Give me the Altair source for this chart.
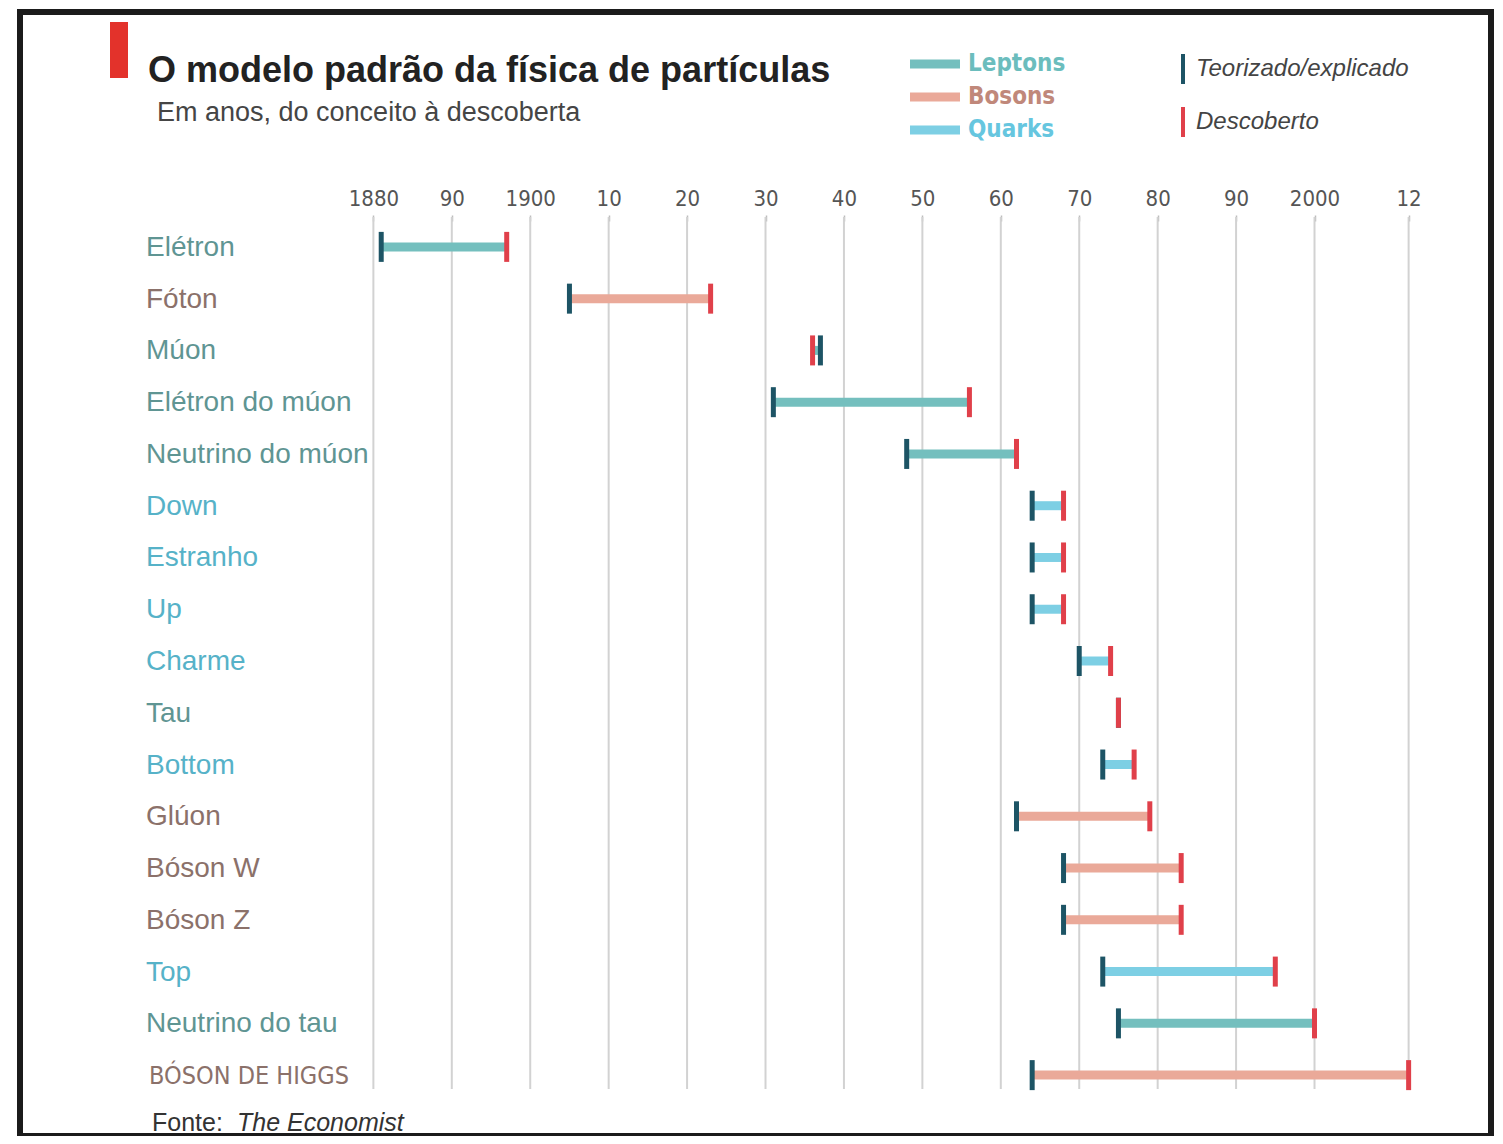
import altair as alt
import pandas as pd

# ---------------- data ----------------
particles = ["Elétron", "Fóton", "Múon", "Elétron do múon", "Neutrino do múon",
             "Down", "Estranho", "Up", "Charme", "Tau", "Bottom", "Glúon",
             "Bóson W", "Bóson Z", "Top", "Neutrino do tau", "BÓSON DE HIGGS"]
groups = ["Leptons", "Bosons", "Leptons", "Leptons", "Leptons",
          "Quarks", "Quarks", "Quarks", "Quarks", "Leptons", "Quarks", "Bosons",
          "Bosons", "Bosons", "Quarks", "Leptons", "Bosons"]
theorized = [1881, 1905, 1937, 1931, 1948, 1964, 1964, 1964, 1970, 1975, 1973,
             1962, 1968, 1968, 1973, 1975, 1964]
discovered = [1897, 1923, 1936, 1956, 1962, 1968, 1968, 1968, 1974, 1975, 1977,
              1979, 1983, 1983, 1995, 2000, 2012]
tick_years = [1880, 1890, 1900, 1910, 1920, 1930, 1940, 1950, 1960, 1970,
              1980, 1990, 2000, 2012]
group_names = ["Leptons", "Bosons", "Quarks"]

# ---------------- styles ----------------
bar_colors = ["#74bfbe", "#eaa999", "#7dcfe4"]
label_colors = ["#5f9593", "#8b716a", "#56b2c8"]
legend_text_colors = ["#6bbdbd", "#c0887a", "#66c6df"]
dark_tick = "#1d5465"
red_tick = "#e0404a"
SANS = "Liberation Sans, Arial, Helvetica, sans-serif"
NARROW = "Liberation Sans Narrow, DejaVu Sans Condensed, Arial Narrow, sans-serif"

df = pd.DataFrame({"particula": particles, "grupo": groups,
                   "teorizado": theorized, "descoberto": discovered})
df["inicio"] = df[["teorizado", "descoberto"]].min(axis=1)
df["fim"] = df[["teorizado", "descoberto"]].max(axis=1)
grid_df = pd.DataFrame({"ano": tick_years})
one = pd.DataFrame({"k": [0]})

W, H = 1098, 880
X0, Y0 = 342, 221  # page position of plot origin


def px(v):
    return v - X0


def py(v):
    return v - Y0


xscale = alt.Scale(domain=[1876, 2016], nice=False, zero=False)
yenc = alt.Y("particula:N", sort=particles, axis=None,
             scale=alt.Scale(type="band", paddingInner=0, paddingOuter=0))

grid = alt.Chart(grid_df).mark_rule(color="#d2d2d2", strokeWidth=2).encode(
    x=alt.X("ano:Q", scale=xscale,
            axis=alt.Axis(orient="top", values=tick_years, title=None,
                          labelExpr="datum.value == 1880 || datum.value % 100 == 0 ? toString(datum.value) : slice(toString(datum.value), 2)",
                          domain=False, grid=False, tickSize=6, tickColor="#bdbdbd",
                          tickWidth=1.5, labelFontSize=22, labelColor="#555555",
                          labelFont=NARROW, labelPadding=5)),
    y=alt.value(-4), y2=alt.value(868))

bars = alt.Chart(df).mark_rule(strokeWidth=9, opacity=1).encode(
    x=alt.X("inicio:Q", scale=xscale), x2="fim:Q", y=yenc,
    color=alt.Color("grupo:N", scale=alt.Scale(domain=group_names, range=bar_colors), legend=None))

t_ticks = alt.Chart(df).mark_tick(size=30, thickness=5, color=dark_tick, opacity=1).encode(
    x=alt.X("teorizado:Q", scale=xscale), y=yenc)
d_ticks = alt.Chart(df).mark_tick(size=30, thickness=5, color=red_tick, opacity=1).encode(
    x=alt.X("descoberto:Q", scale=xscale), y=yenc)

labels = alt.Chart(df).transform_filter(alt.datum.particula != "BÓSON DE HIGGS").mark_text(
    align="left", baseline="middle", fontSize=28, font=SANS, dy=1).encode(
    x=alt.value(px(146)), y=yenc,
    text="particula:N",
    color=alt.Color("grupo:N", scale=alt.Scale(domain=group_names, range=label_colors), legend=None))
higgs = alt.Chart(df).transform_filter(alt.datum.particula == "BÓSON DE HIGGS").mark_text(
    align="left", baseline="middle", fontSize=25, font=NARROW, dy=1).encode(
    x=alt.value(px(149)), y=yenc,
    text="particula:N",
    color=alt.Color("grupo:N", scale=alt.Scale(domain=group_names, range=label_colors), legend=None))

layers = [grid, bars, t_ticks, d_ticks, labels, higgs]

# frame & title
layers.append(alt.Chart(one).mark_rect(fill=None, stroke="#1b1b1b", strokeWidth=6).encode(
    x=alt.value(px(20)), x2=alt.value(px(1491)), y=alt.value(py(12)), y2=alt.value(py(1136))))
layers.append(alt.Chart(one).mark_rect(color="#e3322b").encode(
    x=alt.value(px(110)), x2=alt.value(px(128)), y=alt.value(py(22)), y2=alt.value(py(78))))
layers.append(alt.Chart(one).mark_text(
    text="O modelo padrão da física de partículas", align="left", baseline="alphabetic",
    fontSize=36, fontWeight="bold", font=SANS, color="#222222").encode(
    x=alt.value(px(148)), y=alt.value(py(82))))
layers.append(alt.Chart(one).mark_text(
    text="Em anos, do conceito à descoberta", align="left", baseline="alphabetic",
    fontSize=27, font=SANS, color="#454545").encode(
    x=alt.value(px(157)), y=alt.value(py(121))))

# legend: groups
for i, (name, bc, tc) in enumerate(zip(group_names, bar_colors, legend_text_colors)):
    yy = 64 + i * 33
    layers.append(alt.Chart(one).mark_rule(strokeWidth=9, color=bc).encode(
        x=alt.value(px(910)), x2=alt.value(px(960)), y=alt.value(py(yy))))
    layers.append(alt.Chart(one).mark_text(
        text=name, align="left", baseline="middle", fontSize=24, fontWeight="bold",
        font=NARROW, color=tc).encode(x=alt.value(px(968)), y=alt.value(py(yy))))

# legend: ticks
for yy, col, name in [(69, dark_tick, "Teorizado/explicado"), (122, red_tick, "Descoberto")]:
    layers.append(alt.Chart(one).mark_rule(strokeWidth=4, color=col).encode(
        x=alt.value(px(1183)), y=alt.value(py(yy - 15)), y2=alt.value(py(yy + 15))))
    layers.append(alt.Chart(one).mark_text(
        text=name, align="left", baseline="middle", fontSize=24, fontStyle="italic",
        font=SANS, color="#444444").encode(x=alt.value(px(1196)), y=alt.value(py(yy))))

# source
layers.append(alt.Chart(one).mark_text(
    text="Fonte:", align="left", baseline="middle", fontSize=25, font=SANS,
    color="#333333").encode(x=alt.value(px(152)), y=alt.value(py(1123))))
layers.append(alt.Chart(one).mark_text(
    text="The Economist", align="left", baseline="middle", fontSize=25, fontStyle="italic",
    font=SANS, color="#333333").encode(x=alt.value(px(237)), y=alt.value(py(1123))))

chart = alt.layer(*layers).resolve_scale(color="independent").properties(
    width=W, height=H,
    padding={"left": X0 - 8, "top": Y0 - 8, "right": 1487 - (X0 - 8) - W, "bottom": 1128 - (Y0 - 8) - H},
    autosize=alt.AutoSizeParams(type="none"),
    background="white",
).configure_view(stroke=None)

chart.save("out.html", embed_options={"renderer": "svg", "actions": False})
